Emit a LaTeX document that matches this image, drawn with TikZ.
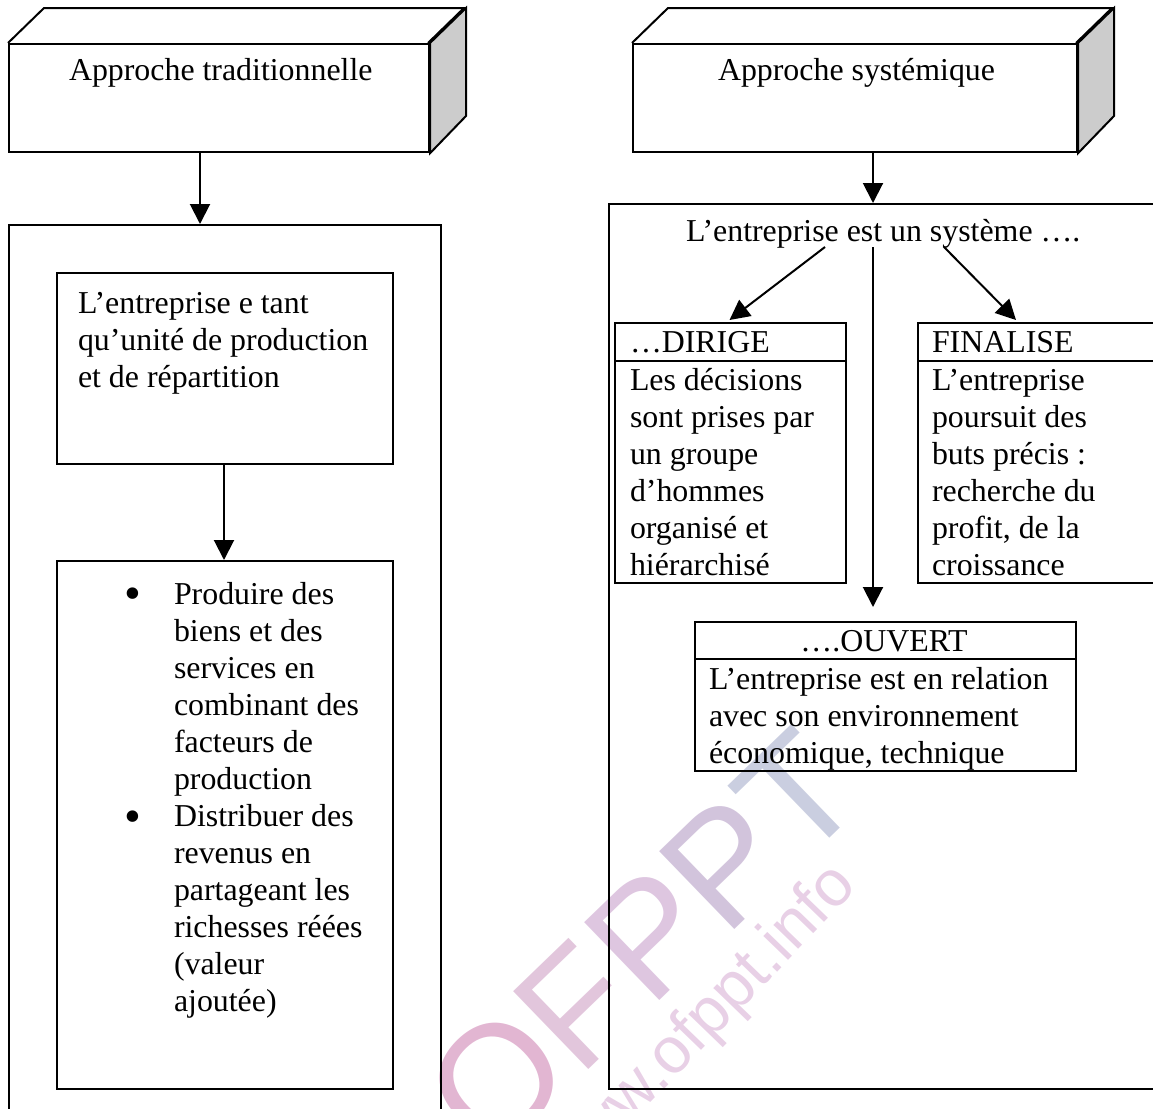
\documentclass[tikz,border=0pt]{standalone}
\usepackage{fontspec}
\setmainfont{Liberation Serif}
\newfontfamily\wmfont{Liberation Sans}
\usepackage{tikz}
\usetikzlibrary{arrows.meta}
\definecolor{sidegray}{HTML}{CCCCCC}
\definecolor{wmO}{HTML}{E2B6D2}
\definecolor{wmF}{HTML}{E2C6DC}
\definecolor{wmPa}{HTML}{DEC6E0}
\definecolor{wmPb}{HTML}{D2C4DC}
\definecolor{wmT}{HTML}{CACEE0}
\definecolor{wmurl}{HTML}{E8D0E6}
\tikzstyle{box} = [rectangle, draw, inner sep = 0pt, anchor = north west]
\tikzstyle{txt} = [inner sep = 0pt, anchor = base west, align = left, font = \fontsize{11.95}{13.875}\selectfont]
\tikzstyle{bul} = [inner sep = 0pt, anchor = base west, font = \fontsize{18}{18}\selectfont]
\tikzstyle{wm} = [inner sep = 0pt, anchor = base west, rotate = 44, font = \wmfont\fontsize{59}{59}\selectfont]
\tikzstyle{line} = [draw]
\tikzstyle{arrow} = [draw, -{Triangle[length = 7.5pt, width = 7.5pt]}]

\begin{document}
\begin{tikzpicture}[x = 0.375pt, y = -0.375pt, line width = 0.75pt]
				\useasboundingbox (0, 0) rectangle (1153, 1108);
				\clip (0, 0) rectangle (1153, 1108);

				% watermark
				\node [wm, text = wmO] (wmo) at (490, 1162) {O};
				\node [wm, text = wmF] (wmf) at (579, 1079) {F};
				\node [wm, text = wmPa] (wmp1) at (650, 1010) {P};
				\node [wm, text = wmPb] (wmp2) at (725, 939) {P};
				\node [wm, text = wmT, anchor = base] (wmt) at (835, 833) {T};
				\node [wm, text = wmurl, rotate = 2, font = \wmfont\fontsize{24.4}{24.4}\selectfont] (wmurl) at (564, 1193) {www.ofppt.info};

				% left column
				\node [box, minimum width = 157.5pt, minimum height = 40.6pt] (trad) at (8, 43) {};
				\node [box, minimum width = 162pt, minimum height = 343pt] (outerl) at (8, 224) {};
				\node [box, minimum width = 126pt, minimum height = 71.625pt] (unite) at (56, 272) {};
				\node [box, minimum width = 126pt, minimum height = 198pt] (roles) at (56, 560) {};
				\node [txt] (tradtxt) at (68, 80) {Approche traditionnelle};
				\node [txt] (unitetxt) at (77, 387) {L’entreprise e tant\\qu’unité de production\\et de répartition};
				\node [bul] (bul1) at (123, 609) {•};
				\node [bul] (bul2) at (123, 832) {•};
				\node [txt] (rolestxt) at (173, 1011) {Produire des\\biens et des\\services en\\combinant des\\facteurs de\\production\\Distribuer des\\revenus en\\partageant les\\richesses réées\\(valeur\\ajoutée)};

				% right column
				\node [box, minimum width = 166.5pt, minimum height = 40.6pt] (sys) at (632, 43) {};
				\node [box, minimum width = 225pt, minimum height = 331.875pt] (outerr) at (608, 203) {};
				\node [box, minimum width = 86.625pt, minimum height = 14.25pt] (dirige) at (614, 322) {};
				\node [box, minimum width = 86.625pt, minimum height = 83.25pt] (dirigeb) at (614, 360) {};
				\node [box, minimum width = 112.5pt, minimum height = 14.25pt] (final) at (917, 322) {};
				\node [box, minimum width = 112.5pt, minimum height = 83.25pt] (finalb) at (917, 360) {};
				\node [box, minimum width = 142.875pt, minimum height = 13.875pt] (ouvert) at (694, 621) {};
				\node [box, minimum width = 142.875pt, minimum height = 42pt] (ouvertb) at (694, 658) {};
				\node [txt] (systxt) at (717, 80) {Approche systémique};
				\node [txt] (enttxt) at (685, 241) {L’entreprise est un système ….};
				\node [txt] (dirigetxt) at (629, 352) {…DIRIGE};
				\node [txt] (dirigebtxt) at (629, 575) {Les décisions\\sont prises par\\un groupe\\d’hommes\\organisé et\\hiérarchisé};
				\node [txt] (finaltxt) at (931, 352) {FINALISE};
				\node [txt] (finalbtxt) at (931, 575) {L’entreprise\\poursuit des\\buts précis :\\recherche du\\profit, de la\\croissance};
				\node [txt, anchor = base] (ouverttxt) at (884, 651) {….OUVERT};
				\node [txt] (ouvertbtxt) at (708, 763) {L’entreprise est en relation\\avec son environnement\\économique, technique};

				% the two solid lids
				\path [line] (trad.north west) -- ++(36, -35) -- ++(420, 0) -- ++(-36, 35);
				\path [line, fill = sidegray] (trad.north east) -- ++(36, -35) -- ++(0, 108) -- (trad.south east) -- cycle;
				\path [line] (sys.north west) -- ++(36, -35) -- ++(444, 0) -- ++(-36, 35);
				\path [line, fill = sidegray] (sys.north east) -- ++(36, -35) -- ++(0, 108) -- (sys.south east) -- cycle;

				% connectors
				\coordinate (xtrad) at (200, 0);
				\coordinate (xunite) at (224, 0);
				\coordinate (xsys) at (873, 0);
				\coordinate (d1) at (825, 247);
				\coordinate (d2) at (729.5, 320);
				\coordinate (f1) at (944, 247);
				\coordinate (f2) at (1016, 320);
				\coordinate (o1) at (873, 247);
				\coordinate (o2) at (873, 607);
				\path [arrow] (xtrad |- trad.south) -- (xtrad |- outerl.north);
				\path [arrow] (xunite |- unite.south) -- (xunite |- roles.north);
				\path [arrow] (xsys |- sys.south) -- (xsys |- outerr.north);
				\path [arrow] (d1) -- (d2);
				\path [arrow] (f1) -- (f2);
				\path [arrow] (o1) -- (o2);
			\end{tikzpicture}
\end{document}
